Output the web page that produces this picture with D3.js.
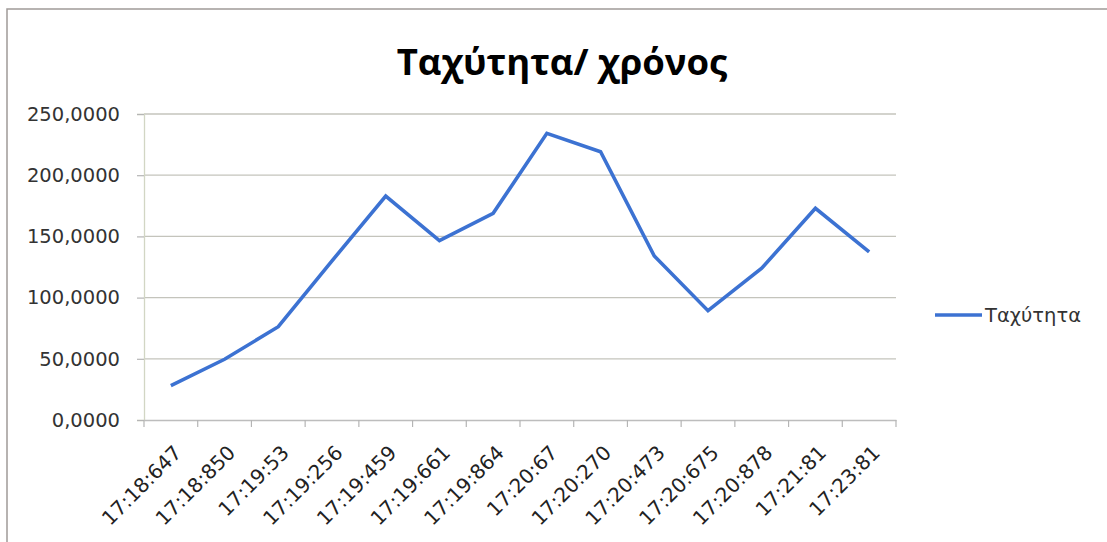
<!DOCTYPE html>
<html>
<head>
<meta charset="utf-8">
<script src="https://cdn.jsdelivr.net/npm/d3@7"></script>
<style>
  html, body { margin: 0; padding: 0; background: #fff; }
  svg { display: block; }
</style>
</head>
<body>
<svg id="chart" width="1107" height="542"></svg>
<script>
// Time stamps (category axis) and measured speed values
const times = ["17:18:647", "17:18:850", "17:19:53", "17:19:256", "17:19:459", "17:19:661",
  "17:19:864", "17:20:67", "17:20:270", "17:20:473", "17:20:675", "17:20:878", "17:21:81", "17:23:81"];
const speed = [28.0, 49.6, 76.2, 130.0, 183.0, 146.5, 168.9, 234.2, 219.2, 134.0, 89.3, 124.0, 173.0, 137.3];
const yTicks = [0, 50, 100, 150, 200, 250];
const seriesName = "Ταχύτητα";
const chartTitle = "Ταχύτητα/ χρόνος";

const svg = d3.select("#chart");
const W = 1107, H = 542;
const m = { left: 144, right: 896, top: 114, bottom: 420 };
const font = "'DejaVu Sans', sans-serif";
const titleFont = "'Open Sans', 'Noto Sans', sans-serif";

// chart frame
svg.append("rect").attr("x", 7).attr("y", 9).attr("width", W + 10).attr("height", H + 10)
  .attr("fill", "#fff").attr("stroke", "#a09a98").attr("stroke-width", 1.5);

const x = d3.scaleBand().domain(times).range([m.left, m.right]);
const y = d3.scaleLinear().domain([0, 250]).range([m.bottom, m.top]);

// horizontal gridlines
svg.append("g").selectAll("line").data(yTicks.filter(d => d > 0)).join("line")
  .attr("x1", m.left).attr("x2", m.right)
  .attr("y1", d => y(d)).attr("y2", d => y(d))
  .attr("stroke", "#c4c4bc").attr("stroke-width", 1.3);

// y axis
const fmt = d => d3.format(".4f")(d).replace(".", ",");
const yAxis = svg.append("g").attr("transform", `translate(${m.left},0)`)
  .call(d3.axisLeft(y).tickValues(yTicks).tickFormat(fmt).tickSize(7).tickPadding(17));
yAxis.select(".domain").attr("stroke", "#d2d6c4").attr("stroke-width", 1.3);
yAxis.selectAll(".tick line").attr("stroke", "#b5b5b5").attr("stroke-width", 1.2);
yAxis.selectAll("text").attr("font-family", font).attr("font-size", 19.5).attr("fill", "#333");

// x axis with ticks between categories, labels rotated -45°
const xAxis = svg.append("g").attr("transform", `translate(0,${m.bottom})`)
  .call(d3.axisBottom(x).tickSize(0).tickPadding(0));
xAxis.select(".domain").attr("stroke", "#bdbdbd").attr("stroke-width", 1.3);
xAxis.selectAll(".tick text")
  .attr("font-family", font).attr("font-size", 20).attr("fill", "#222")
  .attr("text-anchor", "end")
  .attr("y", 0).attr("dy", 0)
  .attr("transform", "translate(12,34) rotate(-45)");
const bounds = times.map(t => x(t)).concat([m.right]);
svg.append("g").selectAll("line").data(bounds).join("line")
  .attr("x1", d => d).attr("x2", d => d)
  .attr("y1", m.bottom).attr("y2", m.bottom + 7)
  .attr("stroke", "#b5b5b5").attr("stroke-width", 1.2);

// data line
const line = d3.line()
  .x((d, i) => x(times[i]) + x.bandwidth() / 2)
  .y(d => y(d));
svg.append("path").datum(speed)
  .attr("d", line)
  .attr("fill", "none").attr("stroke", "#3c72d2").attr("stroke-width", 3.6)
  .attr("stroke-linejoin", "miter");

// title
svg.append("text").attr("x", 562).attr("y", 75).attr("text-anchor", "middle")
  .attr("font-family", titleFont).attr("font-weight", "bold").attr("font-size", 36.5)
  .attr("fill", "#000").text(chartTitle);

// legend
const lg = svg.append("g").attr("transform", "translate(935,315)");
lg.append("line").attr("x1", 0).attr("x2", 47).attr("y1", 0).attr("y2", 0)
  .attr("stroke", "#3c72d2").attr("stroke-width", 3.6);
lg.append("text").attr("x", 50).attr("y", 0).attr("dy", "0.35em")
  .attr("font-family", font).attr("font-size", 19.5).attr("fill", "#333").text(seriesName);
</script>
</body>
</html>
